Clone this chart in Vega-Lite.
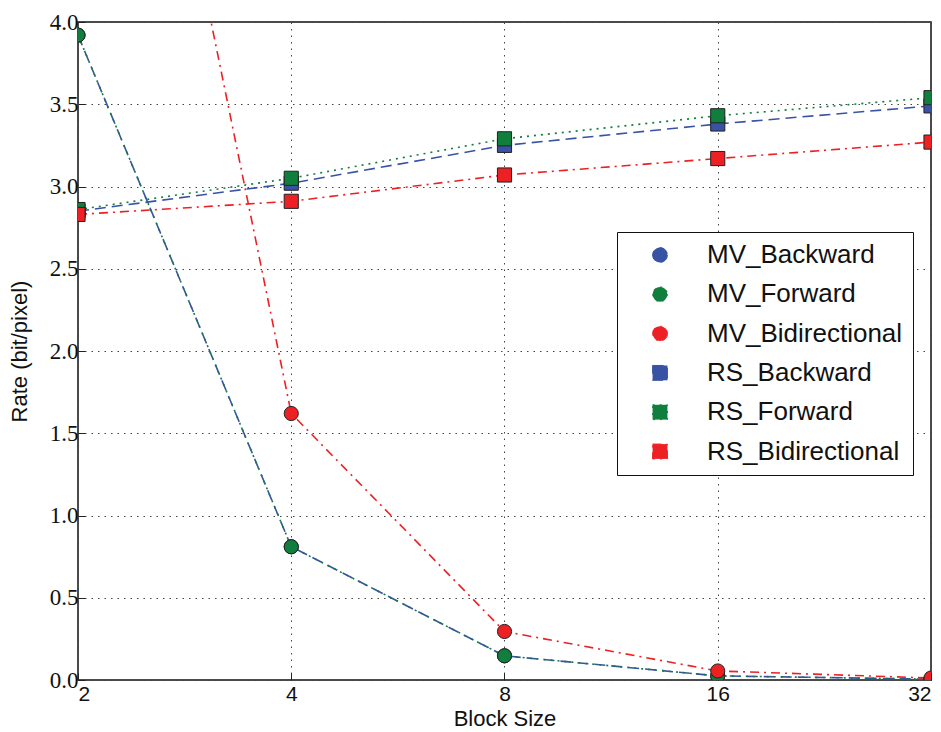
{
  "$schema": "https://vega.github.io/schema/vega-lite/v6.json",
  "width": 853,
  "height": 658,
  "autosize": {"type": "none"},
  "padding": {"left": 78, "top": 22, "right": 10, "bottom": 52},
  "background": "white",
  "config": {
    "view": {"stroke": "#111", "strokeWidth": 1.5},
    "axis": {
      "domain": false,
      "grid": true,
      "gridColor": "#444",
      "gridDash": [1.5, 5],
      "gridWidth": 1,
      "tickColor": "#222",
      "tickSize": -7,
      "tickWidth": 1,
      "titleFont": "Liberation Sans",
      "titleFontSize": 22,
      "titleFontWeight": "normal",
      "titleColor": "#111",
      "labelColor": "#111"
    }
  },
  "data": {
    "values": [
      {"series": "MV_Backward", "block": 2, "rate": 3.92},
      {"series": "MV_Backward", "block": 4, "rate": 0.81},
      {"series": "MV_Backward", "block": 8, "rate": 0.147},
      {"series": "MV_Backward", "block": 16, "rate": 0.025},
      {"series": "MV_Backward", "block": 32, "rate": 0.005},
      {"series": "MV_Forward", "block": 2, "rate": 3.92},
      {"series": "MV_Forward", "block": 4, "rate": 0.81},
      {"series": "MV_Forward", "block": 8, "rate": 0.147},
      {"series": "MV_Forward", "block": 16, "rate": 0.025},
      {"series": "MV_Forward", "block": 32, "rate": 0.005},
      {"series": "MV_Bidirectional", "block": 2, "rate": 7.95},
      {"series": "MV_Bidirectional", "block": 4, "rate": 1.62},
      {"series": "MV_Bidirectional", "block": 8, "rate": 0.295},
      {"series": "MV_Bidirectional", "block": 16, "rate": 0.055},
      {"series": "MV_Bidirectional", "block": 32, "rate": 0.012},
      {"series": "RS_Backward", "block": 2, "rate": 2.85},
      {"series": "RS_Backward", "block": 4, "rate": 3.02},
      {"series": "RS_Backward", "block": 8, "rate": 3.25},
      {"series": "RS_Backward", "block": 16, "rate": 3.38},
      {"series": "RS_Backward", "block": 32, "rate": 3.49},
      {"series": "RS_Forward", "block": 2, "rate": 2.86},
      {"series": "RS_Forward", "block": 4, "rate": 3.05},
      {"series": "RS_Forward", "block": 8, "rate": 3.29},
      {"series": "RS_Forward", "block": 16, "rate": 3.43},
      {"series": "RS_Forward", "block": 32, "rate": 3.54},
      {"series": "RS_Bidirectional", "block": 2, "rate": 2.83},
      {"series": "RS_Bidirectional", "block": 4, "rate": 2.91},
      {"series": "RS_Bidirectional", "block": 8, "rate": 3.07},
      {"series": "RS_Bidirectional", "block": 16, "rate": 3.17},
      {"series": "RS_Bidirectional", "block": 32, "rate": 3.27}
    ]
  },
  "encoding": {
    "x": {
      "field": "block",
      "type": "quantitative",
      "scale": {"type": "log", "base": 2, "domain": [2, 32], "nice": false},
      "axis": {
        "title": "Block Size",
        "values": [2, 4, 8, 16, 32],
        "format": "d",
        "labelFont": "Liberation Sans",
        "labelFontSize": 21,
        "labelPadding": 10,
        "titlePadding": 4
      }
    },
    "y": {
      "field": "rate",
      "type": "quantitative",
      "scale": {"domain": [0, 4], "nice": false},
      "axis": {
        "title": "Rate (bit/pixel)",
        "values": [0, 0.5, 1, 1.5, 2, 2.5, 3, 3.5, 4],
        "format": ".1f",
        "labelFont": "Liberation Serif",
        "labelFontSize": 23,
        "labelPadding": 7,
        "titlePadding": 18
      }
    },
    "color": {
      "field": "series",
      "type": "nominal",
      "scale": {
        "domain": ["MV_Backward", "MV_Forward", "MV_Bidirectional", "RS_Backward", "RS_Forward", "RS_Bidirectional"],
        "range": ["#3953a4", "#107f3e", "#ed2024", "#3953a4", "#107f3e", "#ed2024"]
      },
      "legend": {
        "title": null,
        "orient": "none",
        "legendX": 539,
        "legendY": 210,
        "padding": 10,
        "strokeColor": "#111",
        "fillColor": "white",
        "labelFont": "Liberation Sans",
        "labelFontSize": 26,
        "labelColor": "#111",
        "labelLimit": 400,
        "symbolSize": 220,
        "symbolOffset": 20,
        "labelOffset": 34,
        "rowPadding": 13.3,
        "symbolStrokeWidth": 1,
        "symbolStrokeColor": "#222",
        "symbolDash": []
      }
    }
  },
  "layer": [
    {
      "mark": {"type": "line", "clip": true, "strokeWidth": 1.6},
      "encoding": {
        "strokeDash": {
          "field": "series",
          "type": "nominal",
          "legend": null,
          "scale": {
            "domain": ["MV_Backward", "MV_Forward", "MV_Bidirectional", "RS_Backward", "RS_Forward", "RS_Bidirectional"],
            "range": [[11, 6], [2, 5], [9, 5, 2, 5], [11, 6], [2, 5], [9, 5, 2, 5]]
          }
        }
      }
    },
    {
      "mark": {"type": "point", "clip": true, "filled": true, "size": 200, "stroke": "#222", "strokeWidth": 1, "opacity": 1},
      "encoding": {
        "shape": {
          "field": "series",
          "type": "nominal",
          "legend": null,
          "scale": {
            "domain": ["MV_Backward", "MV_Forward", "MV_Bidirectional", "RS_Backward", "RS_Forward", "RS_Bidirectional"],
            "range": ["circle", "circle", "circle", "square", "square", "square"]
          }
        }
      }
    }
  ]
}
